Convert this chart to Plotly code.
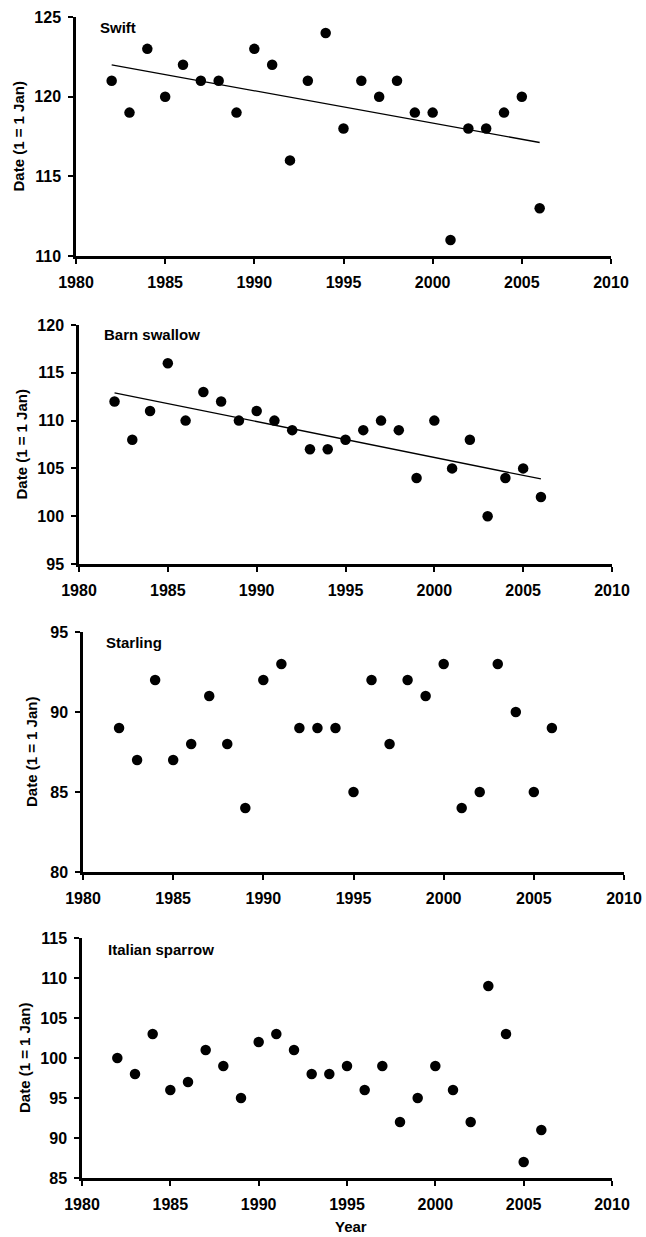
import numpy as np
import plotly.graph_objects as go

W, H = 646, 1237

years = list(range(1982, 2007))

swift = [121, 119, 123, 120, 122, 121, 121, 119, 123, 122, 116, 121, 124, 118, 121,
         120, 121, 119, 119, 111, 118, 118, 119, 120, 113]
barn_swallow = [112, 108, 111, 116, 110, 113, 112, 110, 111, 110, 109, 107, 107, 108, 109,
                110, 109, 104, 110, 105, 108, 100, 104, 105, 102]
starling = [89, 87, 92, 87, 88, 91, 88, 84, 92, 93, 89, 89, 89, 85, 92,
            88, 92, 91, 93, 84, 85, 93, 90, 85, 89]
italian_sparrow = [100, 98, 103, 96, 97, 101, 99, 95, 102, 103, 101, 98, 98, 99, 96,
                   99, 92, 95, 99, 96, 92, 109, 103, 87, 91]

species = ["Swift", "Barn swallow", "Starling", "Italian sparrow"]
series = [swift, barn_swallow, starling, italian_sparrow]
show_trend = [True, True, False, False]
y_ranges = [(110, 125), (95, 120), (80, 95), (85, 115)]
x_range = (1980, 2010)
y_title = "Date (1 = 1 Jan)"
x_title = "Year"

# panel boxes in pixels: (left, right, top, bottom)
boxes = [(76, 611, 17, 256), (79, 612, 325, 564), (83, 624, 632, 872), (82, 612, 938, 1178)]
ytitle_x = [18, 21, 31, 24]
label_pos = [(98, 28), (102, 334), (104, 642), (106, 949)]

FONT = "Liberation Sans, Arial, Helvetica, sans-serif"

fig = go.Figure()
annotations = []
for i, (name, vals) in enumerate(zip(species, series)):
    xa = "x" if i == 0 else f"x{i+1}"
    ya = "y" if i == 0 else f"y{i+1}"
    fig.add_trace(go.Scatter(x=years, y=vals, mode="markers", xaxis=xa, yaxis=ya,
                             marker=dict(color="black", size=10.5), showlegend=False,
                             cliponaxis=False))
    if show_trend[i]:
        k, b = np.polyfit(years, vals, 1)
        xs = [years[0], years[-1]]
        fig.add_trace(go.Scatter(x=xs, y=[k * xv + b for xv in xs], mode="lines",
                                 xaxis=xa, yaxis=ya, line=dict(color="black", width=1.3),
                                 showlegend=False))
    l, r, t, btm = boxes[i]
    xd = [l / W, r / W]
    yd = [1 - btm / H, 1 - t / H]
    axis_common = dict(showgrid=False, zeroline=False, showline=True, linecolor="black",
                       linewidth=2.5, ticks="outside", ticklen=5, tickwidth=2,
                       tickcolor="black", automargin=False,
                       tickfont=dict(family=FONT, size=16, color="black", weight="bold"))
    xkey = "xaxis" if i == 0 else f"xaxis{i+1}"
    ykey = "yaxis" if i == 0 else f"yaxis{i+1}"
    fig.update_layout({
        xkey: dict(domain=xd, range=list(x_range), dtick=5, tick0=1980, anchor=ya,
                   ticklabelstandoff=5, **axis_common),
        ykey: dict(domain=yd, range=list(y_ranges[i]), dtick=5, anchor=xa,
                   ticklabelstandoff=4, **axis_common),
    })
    annotations.append(dict(text=y_title, textangle=-90, xref="paper", yref="paper",
                            x=ytitle_x[i] / W, y=1 - ((t + btm) / 2) / H,
                            xanchor="center", yanchor="middle", showarrow=False,
                            font=dict(family=FONT, size=15, color="black", weight="bold")))
    lx, ly = label_pos[i]
    annotations.append(dict(text=name, xref="paper", yref="paper", x=lx / W, y=1 - ly / H,
                            xanchor="left", yanchor="middle", showarrow=False,
                            font=dict(family=FONT, size=15, color="black", weight="bold")))

annotations.append(dict(text=x_title, xref="paper", yref="paper", x=351 / W, y=1 - 1226 / H,
                        xanchor="center", yanchor="middle", showarrow=False,
                        font=dict(family=FONT, size=15, color="black", weight="bold")))

fig.update_layout(width=W, height=H, margin=dict(l=0, r=0, t=0, b=0, autoexpand=False),
                  plot_bgcolor="white", paper_bgcolor="white",
                  annotations=annotations)

fig.write_html("out.html")
